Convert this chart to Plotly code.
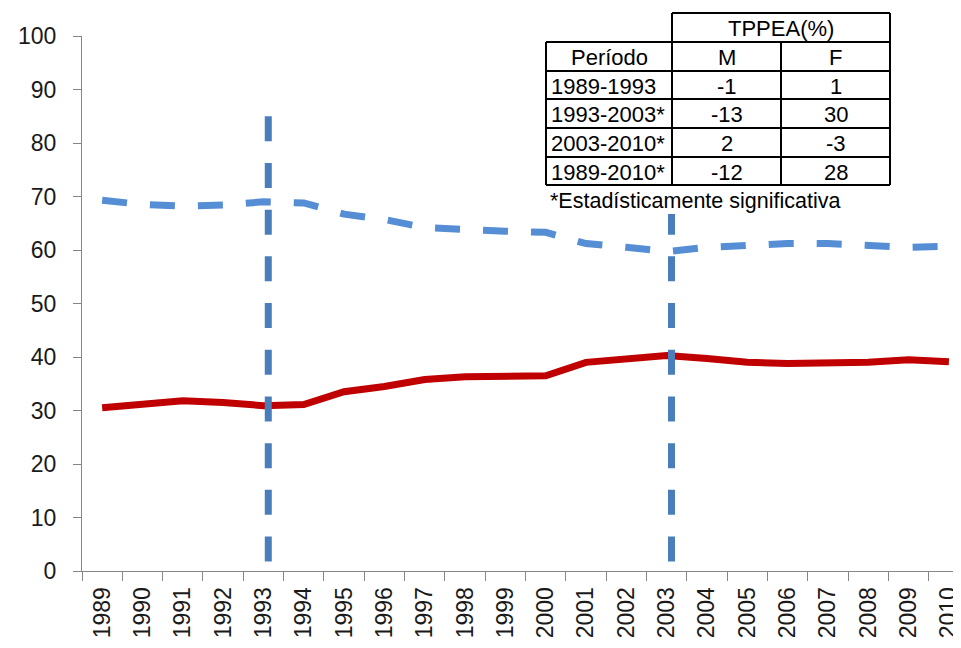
import plotly.graph_objects as go

years = [str(y) for y in range(1989, 2011)]
serie_m = [69.3, 68.5, 68.2, 68.4, 69.0, 68.8, 66.7, 65.7, 64.2, 63.7, 63.5,
           63.3, 61.2, 60.5, 59.7, 60.5, 61.0, 61.2, 61.2, 60.9, 60.5, 60.7]
serie_f = [30.5, 31.2, 31.8, 31.5, 30.9, 31.1, 33.5, 34.5, 35.8, 36.3, 36.5,
           36.5, 39.0, 39.7, 40.3, 39.7, 39.0, 38.8, 38.8, 39.0, 39.5, 39.1]
break_years = [1993.12, 2003.12]   # cut points, drawn just after the year
break_span = [85, 1.5]

periods = ["1989-1993", "1993-2003*", "2003-2010*", "1989-2010*"]
tppea_m = [-1, -13, 2, -12]
tppea_f = [1, 30, -3, 28]
table_title = "TPPEA(%)"
col_headers = ["Período", "M", "F"]
footnote = "*Estadísticamente significativa"
y_ticks = list(range(0, 101, 10))

OFF = 8  # default page body margin
W, H = 953, 640
L, R, T, B = 74, 0, 28, 77
PW, PH = W - L - R, H - T - B
XR = [-0.5, 21.3]
first_year = int(years[0])

def px(X):
    return (X - OFF - L) / PW

def py(Y):
    return (H - B - (Y - OFF)) / PH

FONT = "Arial, Liberation Sans, sans-serif"

fig = go.Figure()
fig.add_trace(go.Scatter(x=years, y=serie_m, mode="lines",
                         line=dict(color="#558ED5", width=7, dash="25px,23px"),
                         showlegend=False, hoverinfo="skip"))
fig.add_trace(go.Scatter(x=years, y=serie_f, mode="lines",
                         line=dict(color="#C00000", width=7),
                         showlegend=False, hoverinfo="skip"))
for by in break_years:
    fig.add_trace(go.Scatter(x=[by, by], y=break_span, mode="lines", xaxis="x2",
                             line=dict(color="#4A7EBB", width=7, dash="25px,21.7px"),
                             showlegend=False, hoverinfo="skip"))

# table grid
col_x = [546, 672, 781, 890]
row_y = [13, 42, 71, 99, 128, 157, 185]
shapes = []
def box(x0, y0, x1, y1):
    shapes.append(dict(type="rect", xref="paper", yref="paper",
                       x0=px(x0), y0=py(y0), x1=px(x1), y1=py(y1),
                       fillcolor="white", line=dict(width=0)))
def seg(x0, y0, x1, y1):
    shapes.append(dict(type="line", xref="paper", yref="paper",
                       x0=px(x0), y0=py(y0), x1=px(x1), y1=py(y1),
                       line=dict(color="black", width=2)))
box(col_x[1], row_y[0], col_x[3], row_y[1])
box(col_x[0], row_y[1], col_x[3], 214)
seg(col_x[1], row_y[0], col_x[3], row_y[0])
for yy in row_y[1:]:
    seg(col_x[0], yy, col_x[3], yy)
seg(col_x[0], row_y[1], col_x[0], row_y[-1])
seg(col_x[1], row_y[0], col_x[1], row_y[-1])
seg(col_x[2], row_y[1], col_x[2], row_y[-1])
seg(col_x[3], row_y[0], col_x[3], row_y[-1])

ann = []
def txt(text, X, Y, anchor="center", size=22):
    ann.append(dict(text=text, xref="paper", yref="paper", x=px(X), y=py(Y),
                    xanchor=anchor, yanchor="middle", showarrow=False,
                    font=dict(family=FONT, size=size, color="black")))

txt(table_title, (col_x[1] + col_x[3]) / 2, (row_y[0] + row_y[1]) / 2 + 1)
for j, h in enumerate(col_headers):
    txt(h, (col_x[j] + col_x[j + 1]) / 2, (row_y[1] + row_y[2]) / 2 + 1)
for i, p in enumerate(periods):
    yc = (row_y[i + 2] + row_y[i + 3]) / 2 + 1
    txt(p, col_x[0] + 3, yc, anchor="left")
    txt(str(tppea_m[i]), (col_x[1] + col_x[2]) / 2, yc)
    txt(str(tppea_f[i]), (col_x[2] + col_x[3]) / 2, yc)
txt(footnote, 548, 201, anchor="left", size=21.5)

fig.update_layout(
    width=W, height=H,
    margin=dict(l=L, r=R, t=T, b=B),
    paper_bgcolor="white", plot_bgcolor="white",
    shapes=shapes, annotations=ann,
    xaxis=dict(type="category", range=XR, tickson="boundaries",
               ticks="outside", ticklen=9, tickcolor="#868686",
               showline=True, linecolor="#868686", linewidth=1,
               showgrid=False, tickangle=-90, ticklabelstandoff=6,
               tickfont=dict(family=FONT, size=23, color="#1a1a1a")),
    xaxis2=dict(type="linear", overlaying="x", visible=False,
                range=[first_year + XR[0], first_year + XR[1]]),
    yaxis=dict(range=[0, 100], tickvals=y_ticks, ticks="outside", ticklen=8,
               tickcolor="#868686", showline=True, linecolor="#868686",
               linewidth=1, showgrid=False, zeroline=False,
               ticklabelstandoff=12,
               tickfont=dict(family=FONT, size=23, color="#1a1a1a")),
)
fig.write_html("out.html")
